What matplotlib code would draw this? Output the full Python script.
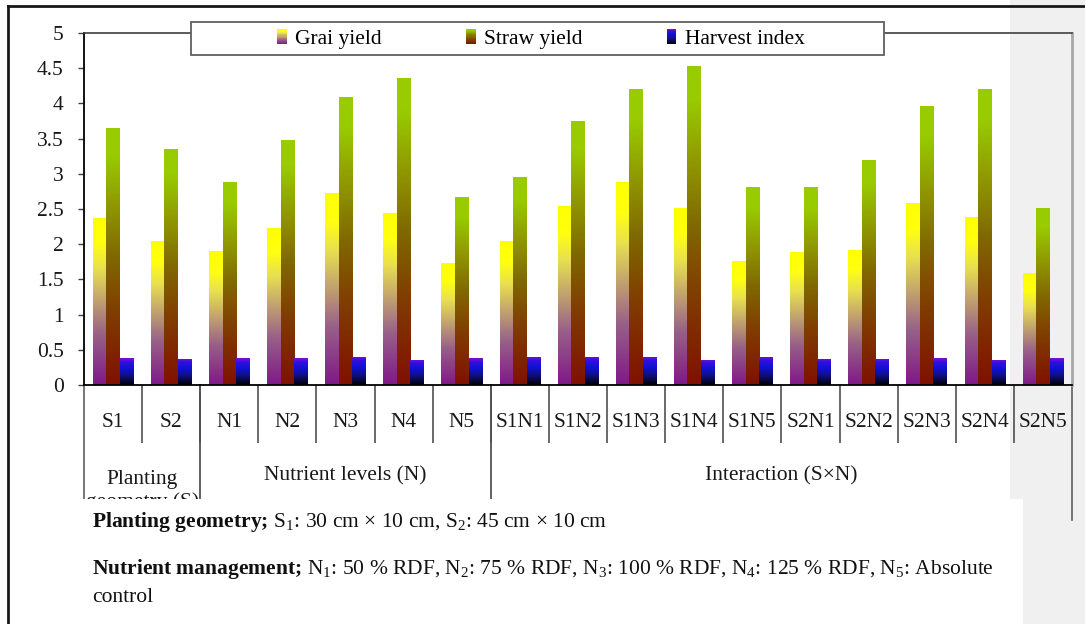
import numpy as np
import matplotlib.pyplot as plt
from matplotlib.colors import LinearSegmentedColormap
from matplotlib.patches import Rectangle
from matplotlib.lines import Line2D
from matplotlib.legend_handler import HandlerBase

plt.rcParams['font.family'] = ['Liberation Serif', 'DejaVu Serif']
plt.rcParams['mathtext.fontset'] = 'custom'
plt.rcParams['mathtext.rm'] = 'Liberation Serif'
plt.rcParams['mathtext.bf'] = 'Liberation Serif:bold'
plt.rcParams['mathtext.it'] = 'Liberation Serif:italic'

categories = ["S1", "S2", "N1", "N2", "N3", "N4", "N5",
              "S1N1", "S1N2", "S1N3", "S1N4", "S1N5",
              "S2N1", "S2N2", "S2N3", "S2N4", "S2N5"]
grain_yield = [2.37, 2.05, 1.90, 2.23, 2.73, 2.44, 1.73,
               2.05, 2.54, 2.88, 2.51, 1.76,
               1.89, 1.92, 2.59, 2.39, 1.59]
straw_yield = [3.65, 3.35, 2.88, 3.48, 4.09, 4.36, 2.67,
               2.95, 3.75, 4.20, 4.53, 2.81,
               2.81, 3.20, 3.96, 4.20, 2.51]
harvest_index = [0.38, 0.37, 0.38, 0.38, 0.40, 0.36, 0.38,
                 0.40, 0.40, 0.40, 0.36, 0.40,
                 0.37, 0.37, 0.38, 0.36, 0.38]
series_names = ["Grai yield", "Straw yield", "Harvest index"]
group_names = ["Planting\ngeometry (S)", "Nutrient levels (N)", "Interaction (S×N)"]
group_spans = [(0, 1), (2, 6), (7, 16)]

# gradients, bottom -> top
cmap_grain = LinearSegmentedColormap.from_list("grain", [
    (0.0, "#801888"), (0.3, "#986088"), (0.5, "#c0a070"),
    (0.7, "#e8e050"), (0.85, "#ffff10"), (1.0, "#ffff00")])
cmap_straw = LinearSegmentedColormap.from_list("straw", [
    (0.0, "#801000"), (0.3, "#804000"), (0.5, "#806800"),
    (0.7, "#909800"), (0.9, "#99cc00"), (1.0, "#99cc00")])
cmap_hi = LinearSegmentedColormap.from_list("hi", [
    (0.0, "#000000"), (0.35, "#101080"), (0.6, "#1010d0"),
    (0.85, "#3010e0"), (1.0, "#8010d0")])

W, H = 1085, 624
fig = plt.figure(figsize=(W / 100, H / 100), dpi=100)


def fx(px):
    return px / W


def fy(py):
    return 1 - py / H


# grey page margin on the right
fig.patches.append(Rectangle((fx(1010), fy(499)), fx(W - 1010), 499 / H,
                             transform=fig.transFigure, facecolor="#f0f0f0",
                             edgecolor="none", zorder=-10))
fig.patches.append(Rectangle((fx(1023), 0), fx(W - 1023), (H - 499) / H,
                             transform=fig.transFigure, facecolor="#f0f0f0",
                             edgecolor="none", zorder=-10))

ax = fig.add_axes([fx(84), fy(385), fx(1072 - 84), (385 - 33) / H])
ax.set_facecolor("none")

x = np.arange(len(categories))
bw = 0.233


def gradient_bars(xs, heights, cmap):
    bars = ax.bar(xs, heights, width=bw, facecolor="none", edgecolor="none", zorder=2)
    grad = np.linspace(0, 1, 256).reshape(-1, 1)
    for b in bars:
        x0 = b.get_x()
        im = ax.imshow(grad, cmap=cmap, origin="lower", aspect="auto",
                       extent=(x0, x0 + b.get_width(), 0, b.get_height()),
                       interpolation="bilinear", zorder=2)
        im.set_clip_path(b)
    return bars


gradient_bars(x - bw, grain_yield, cmap_grain)
gradient_bars(x, straw_yield, cmap_straw)
gradient_bars(x + bw, harvest_index, cmap_hi)

ax.set_xlim(-0.5, len(categories) - 0.5)
ax.set_ylim(0, 5)
ax.set_aspect("auto")

ax.spines["left"].set_color("black")
ax.spines["left"].set_linewidth(1.3)
ax.spines["bottom"].set_color("black")
ax.spines["bottom"].set_linewidth(1.3)
ax.spines["top"].set_color("#404040")
ax.spines["top"].set_linewidth(1.2)
ax.spines["right"].set_color("#a8a8a8")
ax.spines["right"].set_linewidth(2)

ax.set_yticks(np.arange(0, 5.01, 0.5))
ax.set_yticklabels([f"{v:g}" for v in np.arange(0, 5.01, 0.5)])
ax.tick_params(axis="y", length=4.5, width=1, color="#404040", pad=10,
               labelsize=15.5, labelcolor="#181818")

ax.set_xticks(x)
ax.set_xticklabels(categories)
ax.set_xticks(x[:-1] + 0.5, minor=True)
ax.tick_params(axis="x", which="major", length=0, pad=20, labelsize=15.5,
               labelcolor="#181818")
ax.tick_params(axis="x", which="minor", length=42, width=1.2, color="#505050")

# long separators between groups
tr = ax.get_xaxis_transform()
for s, e in group_spans:
    for xe in (s - 0.5, e + 0.5):
        ax.plot([xe, xe], [0, -0.384], transform=tr, color="#606060",
                lw=1.2, clip_on=False, zorder=1)

for name, (s, e) in zip(group_names, group_spans):
    yy = -0.302 if "\n" in name else -0.258
    ax.text((s + e) / 2, yy, name, transform=tr, ha="center", va="center",
            fontsize=15.5, color="#181818", linespacing=1.2)

# white footnote box hiding the cut label
fig.patches.append(Rectangle((fx(10), 0), fx(1023 - 10), (H - 499) / H,
                             transform=fig.transFigure, facecolor="white",
                             edgecolor="none", zorder=3))

# outer frame
fig.lines.append(Line2D([fx(8), fx(8)], [fy(6), 0], transform=fig.transFigure,
                        color="#181818", lw=2, zorder=6))
fig.lines.append(Line2D([fx(8), 1], [fy(6), fy(6)], transform=fig.transFigure,
                        color="#181818", lw=2, zorder=6))

# legend
fig.patches.append(Rectangle((fx(191), fy(55)), fx(884 - 191), 33 / H,
                             transform=fig.transFigure, facecolor="white",
                             edgecolor="#606060", lw=1.3, zorder=4))


class GradientHandler(HandlerBase):
    def __init__(self, cmap):
        super().__init__()
        self.cmap = cmap

    def create_artists(self, legend, orig_handle, xdescent, ydescent,
                       width, height, fontsize, trans):
        n = 14
        out = []
        for i in range(n):
            out.append(Rectangle((-xdescent, -ydescent + height * i / n),
                                 width, height / n * 1.1,
                                 facecolor=self.cmap((i + 0.5) / n),
                                 edgecolor="none", transform=trans))
        return out


handles = [Rectangle((0, 0), 1, 1) for _ in series_names]
hmap = {h: GradientHandler(c) for h, c in zip(handles, [cmap_grain, cmap_straw, cmap_hi])}
leg = fig.legend(handles, series_names, handler_map=hmap, loc="center",
                 bbox_to_anchor=(fx(541), fy(39)), ncol=3, frameon=False,
                 fontsize=15.5, handlelength=0.45, handleheight=0.7,
                 handletextpad=0.4, columnspacing=3.9)
leg.set_zorder(5)

# footnotes
fig.text(fx(92), fy(522),
         r"$\mathbf{Planting\ geometry;}\,$S$_1$: 30 cm × 10 cm, "
         r"S$_2$: 45 cm × 10 cm",
         fontsize=15.5, va="center", ha="left", zorder=7, color="#101010")
fig.text(fx(92), fy(569),
         r"$\mathbf{Nutrient\ management;}\,$N$_1$: 50 % RDF, "
         r"N$_2$: 75 % RDF, N$_3$: 100 % RDF, "
         r"N$_4$: 125 % RDF, N$_5$: Absolute",
         fontsize=15.5, va="center", ha="left", zorder=7, color="#101010")
fig.text(fx(92), fy(597), "control", fontsize=15.5, va="center", ha="left",
         zorder=7, color="#101010")

fig.savefig("out.png", dpi=100)
